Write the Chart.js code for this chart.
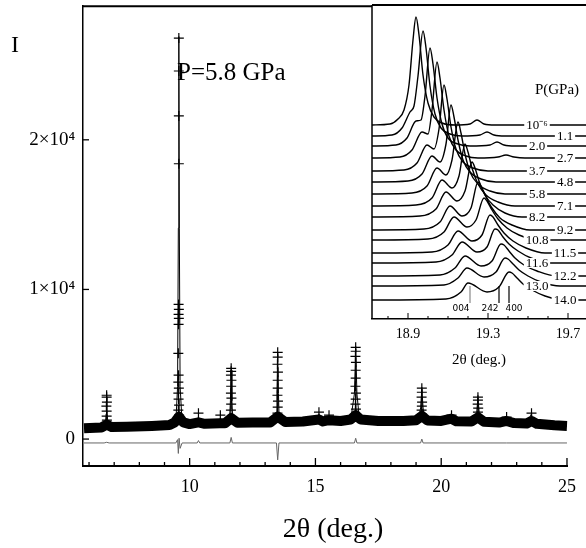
<!DOCTYPE html>
<html>
<head>
<meta charset="utf-8">
<script src="https://cdn.jsdelivr.net/npm/chart.js@4.4.1/dist/chart.umd.min.js"></script>
<style>
  html, body { margin: 0; padding: 0; background: #fff; }
  #wrap { position: relative; width: 586px; height: 548px; }
  #mainChart { position: absolute; left: 0; top: 0; }
  #insetChart { position: absolute; left: 360px; top: 0; }
</style>
</head>
<body>
<div id="wrap">
  <canvas id="mainChart" width="586" height="548"></canvas>
  <canvas id="insetChart" width="226" height="372"></canvas>
</div>
<script>
/* ===== Data: main pattern ===== */
const xTickValues = [6, 7, 8, 9, 10, 11, 12, 13, 14, 15, 16, 17, 18, 19, 20, 21, 22, 23, 24, 25];
const yTickValues = [0, 10000, 20000];
const yTickLabels = ["0", "1×10⁴", "2×10⁴"];

// observed background band (dense crosses)
const bandPoints = [
  [5.8, 730], [6.5, 780], [6.7, 970], [6.9, 800], [7.5, 830], [8.5, 880], [9.2, 940], [9.4, 1110],
  [9.57, 1500], [9.75, 1110], [10.0, 1000], [10.35, 1110], [10.6, 1020], [11.2, 1050], [11.4, 1050],
  [11.65, 1400], [11.9, 1090], [12.5, 1100], [13.2, 1110], [13.5, 1500], [13.8, 1140], [14.5, 1170],
  [15.14, 1310], [15.3, 1180], [15.54, 1260], [16.0, 1210], [16.4, 1310], [16.6, 1600], [16.8, 1310],
  [17.5, 1210], [18.5, 1210], [19.0, 1260], [19.23, 1550], [19.45, 1240], [20.0, 1210], [20.41, 1360],
  [20.6, 1190], [21.2, 1170], [21.46, 1450], [21.7, 1150], [22.3, 1100], [22.6, 1210], [22.9, 1070],
  [23.4, 1040], [23.59, 1210], [23.8, 1020], [24.5, 920], [25.0, 870]
];

// calculated profile
const calcPoints = [
  [5.8, 730], [6.5, 780], [6.64, 830], [6.68, 1690], [6.70, 2850], [6.72, 1690], [6.76, 830],
  [6.9, 800], [7.5, 830], [8.5, 880], [9.2, 940], [9.45, 1110], [9.52, 3520], [9.55, 14100],
  [9.57, 26900], [9.59, 14100], [9.62, 3520], [9.7, 1110], [10.0, 1000], [10.3, 1020], [10.35, 1500],
  [10.4, 1040], [11.2, 1050], [11.22, 1400], [11.26, 1050], [11.58, 1110], [11.62, 2560], [11.65, 4600],
  [11.68, 2560], [11.72, 1110], [12.5, 1100], [13.2, 1110], [13.44, 1170], [13.47, 3040], [13.5, 5650],
  [13.53, 3040], [13.56, 1170], [14.5, 1170], [15.1, 1210], [15.14, 1690], [15.18, 1210], [15.5, 1210],
  [15.54, 1550], [15.58, 1210], [16.4, 1260], [16.55, 3040], [16.6, 6030], [16.65, 3040], [16.75, 1290],
  [17.5, 1210], [18.5, 1210], [19.1, 1260], [19.18, 2080], [19.23, 3330], [19.28, 2080], [19.35, 1250],
  [20.0, 1210], [20.37, 1230], [20.41, 1600], [20.45, 1210], [21.3, 1170], [21.41, 1790], [21.46, 2750],
  [21.51, 1790], [21.6, 1150], [22.3, 1100], [22.6, 1450], [22.65, 1090], [23.4, 1030], [23.59, 1690],
  [23.65, 1030], [24.5, 920], [25.0, 870]
];

// observed points standing out of the band
const obsPoints = [
  [6.70, 2930], [6.70, 2800], [6.71, 2470], [6.69, 2200], [6.70, 1870], [6.70, 1530], [6.71, 1270],
  [9.57, 26800], [9.57, 24600], [9.57, 21600], [9.57, 18400], [9.56, 9000], [9.57, 8670],
  [9.56, 8330], [9.57, 8070], [9.56, 7670], [9.55, 5730], [9.56, 4270], [9.55, 3800], [9.57, 3400],
  [9.55, 3070], [9.56, 2670], [9.58, 2270], [9.55, 1930], [9.58, 1600],
  [10.35, 1730], [11.22, 1600],
  [11.65, 4730], [11.65, 4530], [11.64, 4270], [11.66, 3930], [11.65, 3530], [11.64, 3070],
  [11.66, 2730], [11.65, 2330], [11.64, 1930],
  [13.5, 5800], [13.5, 5470], [13.49, 5000], [13.51, 4470], [13.5, 3930], [13.5, 3400],
  [13.49, 2930], [13.51, 2530], [13.5, 2130], [13.49, 1730],
  [15.14, 1800], [15.54, 1600],
  [16.6, 6130], [16.6, 5870], [16.59, 5530], [16.61, 5130], [16.6, 4600], [16.6, 4070],
  [16.59, 3530], [16.61, 3070], [16.6, 2670], [16.59, 2330], [16.61, 2000], [16.6, 1670],
  [19.23, 3400], [19.23, 3130], [19.22, 2800], [19.24, 2470], [19.23, 2200], [19.22, 1930], [19.24, 1670],
  [20.41, 1600],
  [21.46, 2800], [21.46, 2600], [21.45, 2330], [21.47, 2070], [21.46, 1800], [21.45, 1530],
  [22.6, 1470], [23.59, 1730]
];

// difference curve (obs - calc)
const diffPoints = [
  [5.8, -260], [6.6, -260], [6.7, -215], [6.8, -260], [9.45, -260], [9.52, -40], [9.55, -960],
  [9.58, 55], [9.62, -620], [9.7, -260], [10.3, -260], [10.35, -100], [10.4, -260], [11.6, -260],
  [11.65, 110], [11.7, -260], [13.45, -260], [13.5, -1390], [13.55, -260], [16.55, -260],
  [16.6, 55], [16.65, -260], [19.18, -260], [19.23, 0], [19.28, -260], [22.6, -260], [25.0, -260]
];

/* ===== Data: inset ===== */
const insetTickValues = [18.8, 18.9, 19.0, 19.1, 19.2, 19.3, 19.4, 19.5, 19.6, 19.7];
const insetTickLabels = ["", "18.9", "", "", "", "19.3", "", "", "", "19.7"];
const insetPressures = ["10⁻⁶", "1.1", "2.0", "2.7", "3.7", "4.8", "5.8", "7.1", "8.2", "9.2",
  "10.8", "11.5", "11.6", "12.2", "13.0", "14.0"];
const insetOffsets = [194, 183, 173, 161, 148, 137, 125, 113, 102, 89, 79, 66, 56, 43, 33, 19];
const insetCurves = [
  [[18.72, 0], [18.81, 1], [18.85, 6], [18.88, 15], [18.905, 40], [18.925, 85], [18.94, 108], [18.955, 90], [18.975, 50], [19.0, 22], [19.03, 8], [19.07, 2], [19.135, 0], [19.21, 1], [19.245, 5], [19.28, 1], [19.335, 0], [19.79, 0]],
  [[18.72, 0], [18.82, 1], [18.87, 8], [18.91, 24], [18.93, 30], [18.95, 60], [18.975, 105], [18.99, 88], [19.01, 50], [19.035, 22], [19.065, 8], [19.11, 2], [19.17, 0], [19.26, 1], [19.295, 4], [19.33, 1], [19.385, 0], [19.79, 0]],
  [[18.72, 0], [18.84, 1], [18.895, 8], [18.94, 25], [18.965, 26], [18.985, 50], [19.01, 98], [19.025, 82], [19.045, 48], [19.07, 22], [19.1, 8], [19.15, 2], [19.21, 0], [19.31, 1], [19.345, 4], [19.38, 1], [19.435, 0], [19.79, 0]],
  [[18.72, 0], [18.86, 1], [18.92, 8], [18.97, 26], [19.0, 24], [19.02, 48], [19.045, 96], [19.06, 80], [19.08, 48], [19.105, 22], [19.14, 8], [19.19, 2], [19.25, 0], [19.35, 1], [19.39, 3], [19.43, 1], [19.485, 0], [19.79, 0]],
  [[18.72, 0], [18.88, 1], [18.945, 8], [18.995, 26], [19.03, 22], [19.055, 42], [19.08, 86], [19.095, 72], [19.115, 44], [19.14, 22], [19.175, 9], [19.225, 3], [19.3, 0], [19.79, 0]],
  [[18.72, 0], [18.9, 1], [18.97, 8], [19.02, 26], [19.06, 20], [19.09, 38], [19.115, 77], [19.13, 65], [19.15, 42], [19.175, 22], [19.21, 10], [19.265, 3], [19.34, 0], [19.79, 0]],
  [[18.72, 0], [18.92, 1], [18.995, 8], [19.045, 26], [19.09, 19], [19.12, 34], [19.15, 72], [19.165, 61], [19.185, 40], [19.21, 22], [19.25, 10], [19.31, 3], [19.385, 0], [19.79, 0]],
  [[18.72, 0], [18.94, 1], [19.02, 8], [19.07, 26], [19.12, 18], [19.155, 30], [19.185, 62], [19.2, 54], [19.22, 38], [19.25, 22], [19.29, 11], [19.35, 4], [19.435, 0], [19.79, 0]],
  [[18.72, 0], [18.96, 1], [19.04, 8], [19.09, 25], [19.145, 16], [19.185, 26], [19.22, 55], [19.235, 49], [19.255, 36], [19.285, 22], [19.325, 12], [19.385, 4], [19.47, 0], [19.79, 0]],
  [[18.72, 0], [18.98, 1], [19.06, 8], [19.11, 24], [19.17, 14], [19.215, 22], [19.25, 48], [19.265, 44], [19.29, 33], [19.32, 22], [19.36, 12], [19.42, 5], [19.51, 0], [19.79, 0]],
  [[18.72, 0], [19.0, 1], [19.08, 8], [19.13, 23], [19.195, 13], [19.24, 20], [19.28, 42], [19.295, 39], [19.32, 30], [19.35, 21], [19.395, 12], [19.455, 5], [19.55, 0], [19.79, 0]],
  [[18.72, 0], [19.02, 1], [19.1, 8], [19.15, 22], [19.22, 12], [19.27, 18], [19.31, 38], [19.325, 36], [19.35, 28], [19.38, 20], [19.425, 12], [19.49, 5], [19.585, 0], [19.79, 0]],
  [[18.72, 0], [19.04, 1], [19.12, 8], [19.17, 21], [19.245, 11], [19.295, 16], [19.335, 34], [19.35, 33], [19.375, 26], [19.405, 19], [19.45, 12], [19.515, 5], [19.61, 0], [19.79, 0]],
  [[18.72, 0], [19.06, 1], [19.135, 8], [19.185, 20], [19.265, 10], [19.32, 15], [19.365, 32], [19.38, 31], [19.405, 25], [19.435, 18], [19.48, 11], [19.545, 5], [19.64, 0], [19.79, 0]],
  [[18.72, 0], [19.08, 1], [19.15, 8], [19.195, 18], [19.28, 9], [19.34, 14], [19.385, 28], [19.4, 27], [19.425, 22], [19.455, 16], [19.5, 10], [19.565, 4], [19.66, 0], [19.79, 0]],
  [[18.72, 0], [19.09, 1], [19.165, 8], [19.2, 17], [19.295, 8], [19.355, 13], [19.405, 28], [19.42, 27], [19.445, 22], [19.475, 16], [19.52, 10], [19.585, 4], [19.68, 0], [19.79, 0]]
];
const reflectionNames = ["004", "242", "400"];
const reflectionPos = [19.21, 19.355, 19.405];

/* ===== Helpers ===== */
const SERIF = "'Liberation Serif', 'Times New Roman', serif";
Chart.defaults.font.family = SERIF;
Chart.defaults.color = "#000";

function toXY(points, offset = 0) {
  return points.map(([x, y]) => ({ x, y: y + offset }));
}

function setTicks(values) {
  return (scale) => { scale.ticks = values.map((v) => ({ value: v })); };
}

/* ===== Main chart ===== */
const mainDecor = {
  id: "mainDecor",
  afterDraw(chart) {
    const { ctx, chartArea, scales } = chart;
    ctx.save();
    ctx.strokeStyle = "#000";
    ctx.lineWidth = 2;
    ctx.beginPath();
    ctx.moveTo(chartArea.left - 1, chartArea.top);
    ctx.lineTo(chart.width, chartArea.top);
    ctx.stroke();

    ctx.lineWidth = 1.3;
    scales.x.ticks.forEach((t) => {
      const px = scales.x.getPixelForValue(t.value);
      const len = t.value % 5 === 0 ? 8 : 4;
      ctx.beginPath();
      ctx.moveTo(px, chartArea.bottom);
      ctx.lineTo(px, chartArea.bottom - len);
      ctx.stroke();
    });
    scales.y.ticks.forEach((t) => {
      const py = scales.y.getPixelForValue(t.value);
      ctx.beginPath();
      ctx.moveTo(chartArea.left, py);
      ctx.lineTo(chartArea.left + 6, py);
      ctx.stroke();
    });

    ctx.fillStyle = "#000";
    ctx.textBaseline = "middle";
    ctx.font = `24px ${SERIF}`;
    ctx.fillText("I", 11, 46);
    ctx.font = `25px ${SERIF}`;
    ctx.fillText("P=5.8 GPa", 177, 73);
    ctx.font = `28px ${SERIF}`;
    ctx.textAlign = "center";
    ctx.fillText("2θ (deg.)", 333, 530);
    ctx.restore();
  }
};

new Chart(document.getElementById("mainChart"), {
  type: "scatter",
  data: {
    datasets: [
      {
        label: "obs",
        data: toXY(obsPoints),
        pointStyle: "cross",
        pointRadius: 5,
        borderColor: "#000",
        borderWidth: 1.2,
        order: 0
      },
      {
        label: "calc",
        data: toXY(calcPoints),
        showLine: true,
        pointRadius: 0,
        borderColor: "#000",
        borderWidth: 1,
        order: 1
      },
      {
        label: "band",
        data: toXY(bandPoints),
        showLine: true,
        pointRadius: 0,
        borderColor: "#000",
        borderWidth: 10,
        borderJoinStyle: "round",
        order: 2
      },
      {
        label: "diff",
        data: toXY(diffPoints),
        showLine: true,
        pointRadius: 0,
        borderColor: "#666",
        borderWidth: 1,
        order: 3
      }
    ]
  },
  options: {
    responsive: false,
    animation: false,
    events: [],
    layout: { padding: { top: 5, right: 12, left: 0, bottom: 0 } },
    plugins: { legend: { display: false }, tooltip: { enabled: false } },
    scales: {
      x: {
        type: "linear",
        min: 5.76,
        max: 25.03,
        afterBuildTicks: setTicks(xTickValues),
        afterFit: (scale) => { scale.height = 82; },
        grid: { display: true, drawOnChartArea: false, drawTicks: false },
        border: { display: true, color: "#000", width: 2 },
        ticks: {
          autoSkip: false,
          maxRotation: 0,
          padding: 10,
          font: { size: 18 },
          callback: (v) => (v % 5 === 0 ? String(v) : "")
        }
      },
      y: {
        type: "linear",
        min: -1800,
        max: 28930,
        afterBuildTicks: setTicks(yTickValues),
        afterFit: (scale) => {
          scale.width = 83;
          scale.paddingTop = 0;
          scale.paddingBottom = 0;
        },
        grid: { display: true, drawOnChartArea: false, drawTicks: false },
        border: { display: true, color: "#000", width: 1.5 },
        ticks: {
          padding: 8,
          font: { size: 19 },
          callback: (v) => yTickLabels[yTickValues.indexOf(v)]
        }
      }
    }
  },
  plugins: [mainDecor]
});

/* ===== Inset chart ===== */
const insetDecor = {
  id: "insetDecor",
  beforeDraw(chart) {
    const { ctx, chartArea } = chart;
    ctx.save();
    ctx.fillStyle = "#fff";
    ctx.fillRect(chartArea.left, chartArea.top, chart.width - chartArea.left, chartArea.bottom - chartArea.top);
    ctx.restore();
  },
  afterDatasetsDraw(chart) {
    const { ctx, chartArea, scales } = chart;
    const xs = scales.x;
    const ys = scales.y;
    ctx.save();
    ctx.strokeStyle = "#000";
    ctx.lineWidth = 2;
    ctx.beginPath();
    ctx.moveTo(chartArea.left, chartArea.top);
    ctx.lineTo(chart.width, chartArea.top);
    ctx.stroke();
    ctx.lineWidth = 1.5;
    ctx.beginPath();
    ctx.moveTo(chartArea.left, chartArea.top);
    ctx.lineTo(chartArea.left, chartArea.bottom);
    ctx.stroke();

    ctx.lineWidth = 1;
    xs.ticks.forEach((t, i) => {
      const px = xs.getPixelForValue(t.value);
      const len = insetTickLabels[i] ? 6 : 3;
      ctx.beginPath();
      ctx.moveTo(px, chartArea.bottom);
      ctx.lineTo(px, chartArea.bottom - len);
      ctx.stroke();
    });

    // pressure labels sitting on each trace
    ctx.font = `13px ${SERIF}`;
    ctx.textAlign = "center";
    ctx.textBaseline = "middle";
    insetPressures.forEach((p, i) => {
      const x = xs.getPixelForValue(i % 2 === 0 ? 19.545 : 19.685);
      const y = ys.getPixelForValue(insetOffsets[i]);
      const w = ctx.measureText(p).width;
      ctx.fillStyle = "#fff";
      ctx.fillRect(x - w / 2 - 2, y - 5, w + 4, 10);
      ctx.fillStyle = "#000";
      ctx.fillText(p, x, y + 1);
    });
    ctx.font = `15px ${SERIF}`;
    ctx.fillText("P(GPa)", xs.getPixelForValue(19.645), ys.getPixelForValue(229));

    // reflection markers
    const labelX = [19.165, 19.31, 19.43];
    ctx.font = "9px 'DejaVu Sans', sans-serif";
    reflectionNames.forEach((name, i) => {
      const px = xs.getPixelForValue(reflectionPos[i]);
      ctx.strokeStyle = i === 0 ? "#888" : "#000";
      ctx.lineWidth = 1.2;
      ctx.beginPath();
      ctx.moveTo(px, ys.getPixelForValue(33));
      ctx.lineTo(px, ys.getPixelForValue(16));
      ctx.stroke();
      ctx.fillStyle = "#000";
      ctx.fillText(name, xs.getPixelForValue(labelX[i]), ys.getPixelForValue(10));
    });
    ctx.restore();
  }
};

new Chart(document.getElementById("insetChart"), {
  type: "scatter",
  data: {
    datasets: insetCurves.map((pts, i) => ({
      label: insetPressures[i],
      data: toXY(pts, insetOffsets[i]),
      showLine: true,
      pointRadius: 0,
      borderColor: "#000",
      borderWidth: 1.4,
      cubicInterpolationMode: "monotone"
    }))
  },
  options: {
    responsive: false,
    animation: false,
    events: [],
    layout: { padding: { top: 5, right: 0, left: 12, bottom: 0 } },
    plugins: { legend: { display: false }, tooltip: { enabled: false } },
    scales: {
      x: {
        type: "linear",
        min: 18.72,
        max: 19.79,
        afterBuildTicks: setTicks(insetTickValues),
        afterFit: (scale) => {
          scale.height = 53;
          scale.paddingLeft = 0;
          scale.paddingRight = 0;
        },
        grid: { display: true, drawOnChartArea: false, drawTicks: false },
        border: { display: true, color: "#000", width: 1.5 },
        ticks: {
          autoSkip: false,
          maxRotation: 0,
          padding: 7,
          font: { size: 14 },
          callback: (v, i) => insetTickLabels[i]
        },
        title: { display: true, text: "2θ (deg.)", font: { size: 15 }, padding: { top: 0, bottom: 3 } }
      },
      y: { type: "linear", display: false, min: 0, max: 314 }
    }
  },
  plugins: [insetDecor]
});
</script>
</body>
</html>
